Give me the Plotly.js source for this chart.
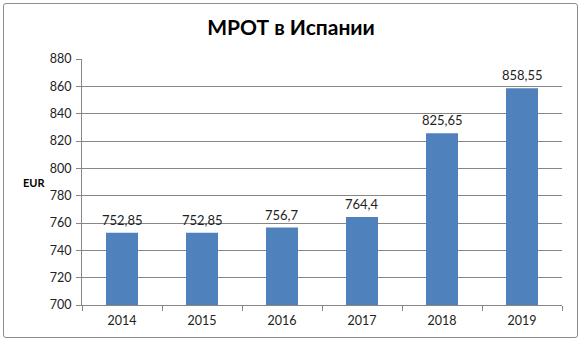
<!DOCTYPE html>
<html>
<head>
<meta charset="utf-8">
<script src="https://cdn.plot.ly/plotly-3.0.1.min.js"></script>
<style>
html,body{margin:0;padding:0;background:#fff;}
#wrap{position:relative;width:582px;height:341px;}
#chart{width:582px;height:341px;}
#frame{position:absolute;left:3px;top:3px;width:573px;height:333px;border:1px solid #8c8c8c;border-radius:3px;pointer-events:none;}
</style>
</head>
<body>
<div id="wrap"><div id="chart"></div><div id="frame"></div></div>
<script>
const years = ['2014','2015','2016','2017','2018','2019'];
const values = [752.85, 752.85, 756.7, 764.4, 825.65, 858.55];
const labels = ['752,85','752,85','756,7','764,4','825,65','858,55'];

const font = 'Lato, "Open Sans", sans-serif';

// annotations on a category axis are placed by category index
const valueLabels = years.map((yr, i) => ({
  x: i, y: values[i], xref: 'x', yref: 'y',
  text: labels[i], showarrow: false,
  xanchor: 'center', yanchor: 'bottom', yshift: 3,
  font: {family: font, size: 13, color: '#222'}
}));

Plotly.newPlot('chart', [{
  type: 'bar',
  x: years,
  y: values,
  marker: {color: '#4f81bd'},
  width: 0.4,
  hoverinfo: 'none'
}], {
  width: 582, height: 341,
  margin: {l: 82, r: 20, t: 59, b: 36},
  paper_bgcolor: '#fff', plot_bgcolor: '#fff',
  showlegend: false,
  title: {text: '<b>МРОТ в Испании</b>', x: 0.5, xanchor: 'center', y: 0.918, yanchor: 'middle',
          font: {family: font, size: 21, color: '#000'}},
  xaxis: {
    type: 'category',
    showline: true, linecolor: '#868686', linewidth: 1,
    ticks: 'outside', ticklen: 5, tickcolor: '#868686', tickson: 'boundaries',
    tickfont: {family: font, size: 12.5, color: '#222'},
    showgrid: false, zeroline: false, ticklabelstandoff: 4
  },
  yaxis: {
    range: [700, 880], dtick: 20, tick0: 700,
    showline: true, linecolor: '#868686', linewidth: 1,
    ticks: 'outside', ticklen: 5, tickcolor: '#868686',
    gridcolor: '#868686', gridwidth: 1,
    tickfont: {family: font, size: 12.5, color: '#222'},
    zeroline: false, ticklabelstandoff: 2
  },
  annotations: [{
    text: '<b>EUR</b>', xref: 'paper', yref: 'paper', x: -0.1, y: 0.5,
    xanchor: 'center', yanchor: 'middle', showarrow: false,
    font: {family: font, size: 11, color: '#000'}
  }].concat(valueLabels)
}, {staticPlot: true});
</script>
</body>
</html>
